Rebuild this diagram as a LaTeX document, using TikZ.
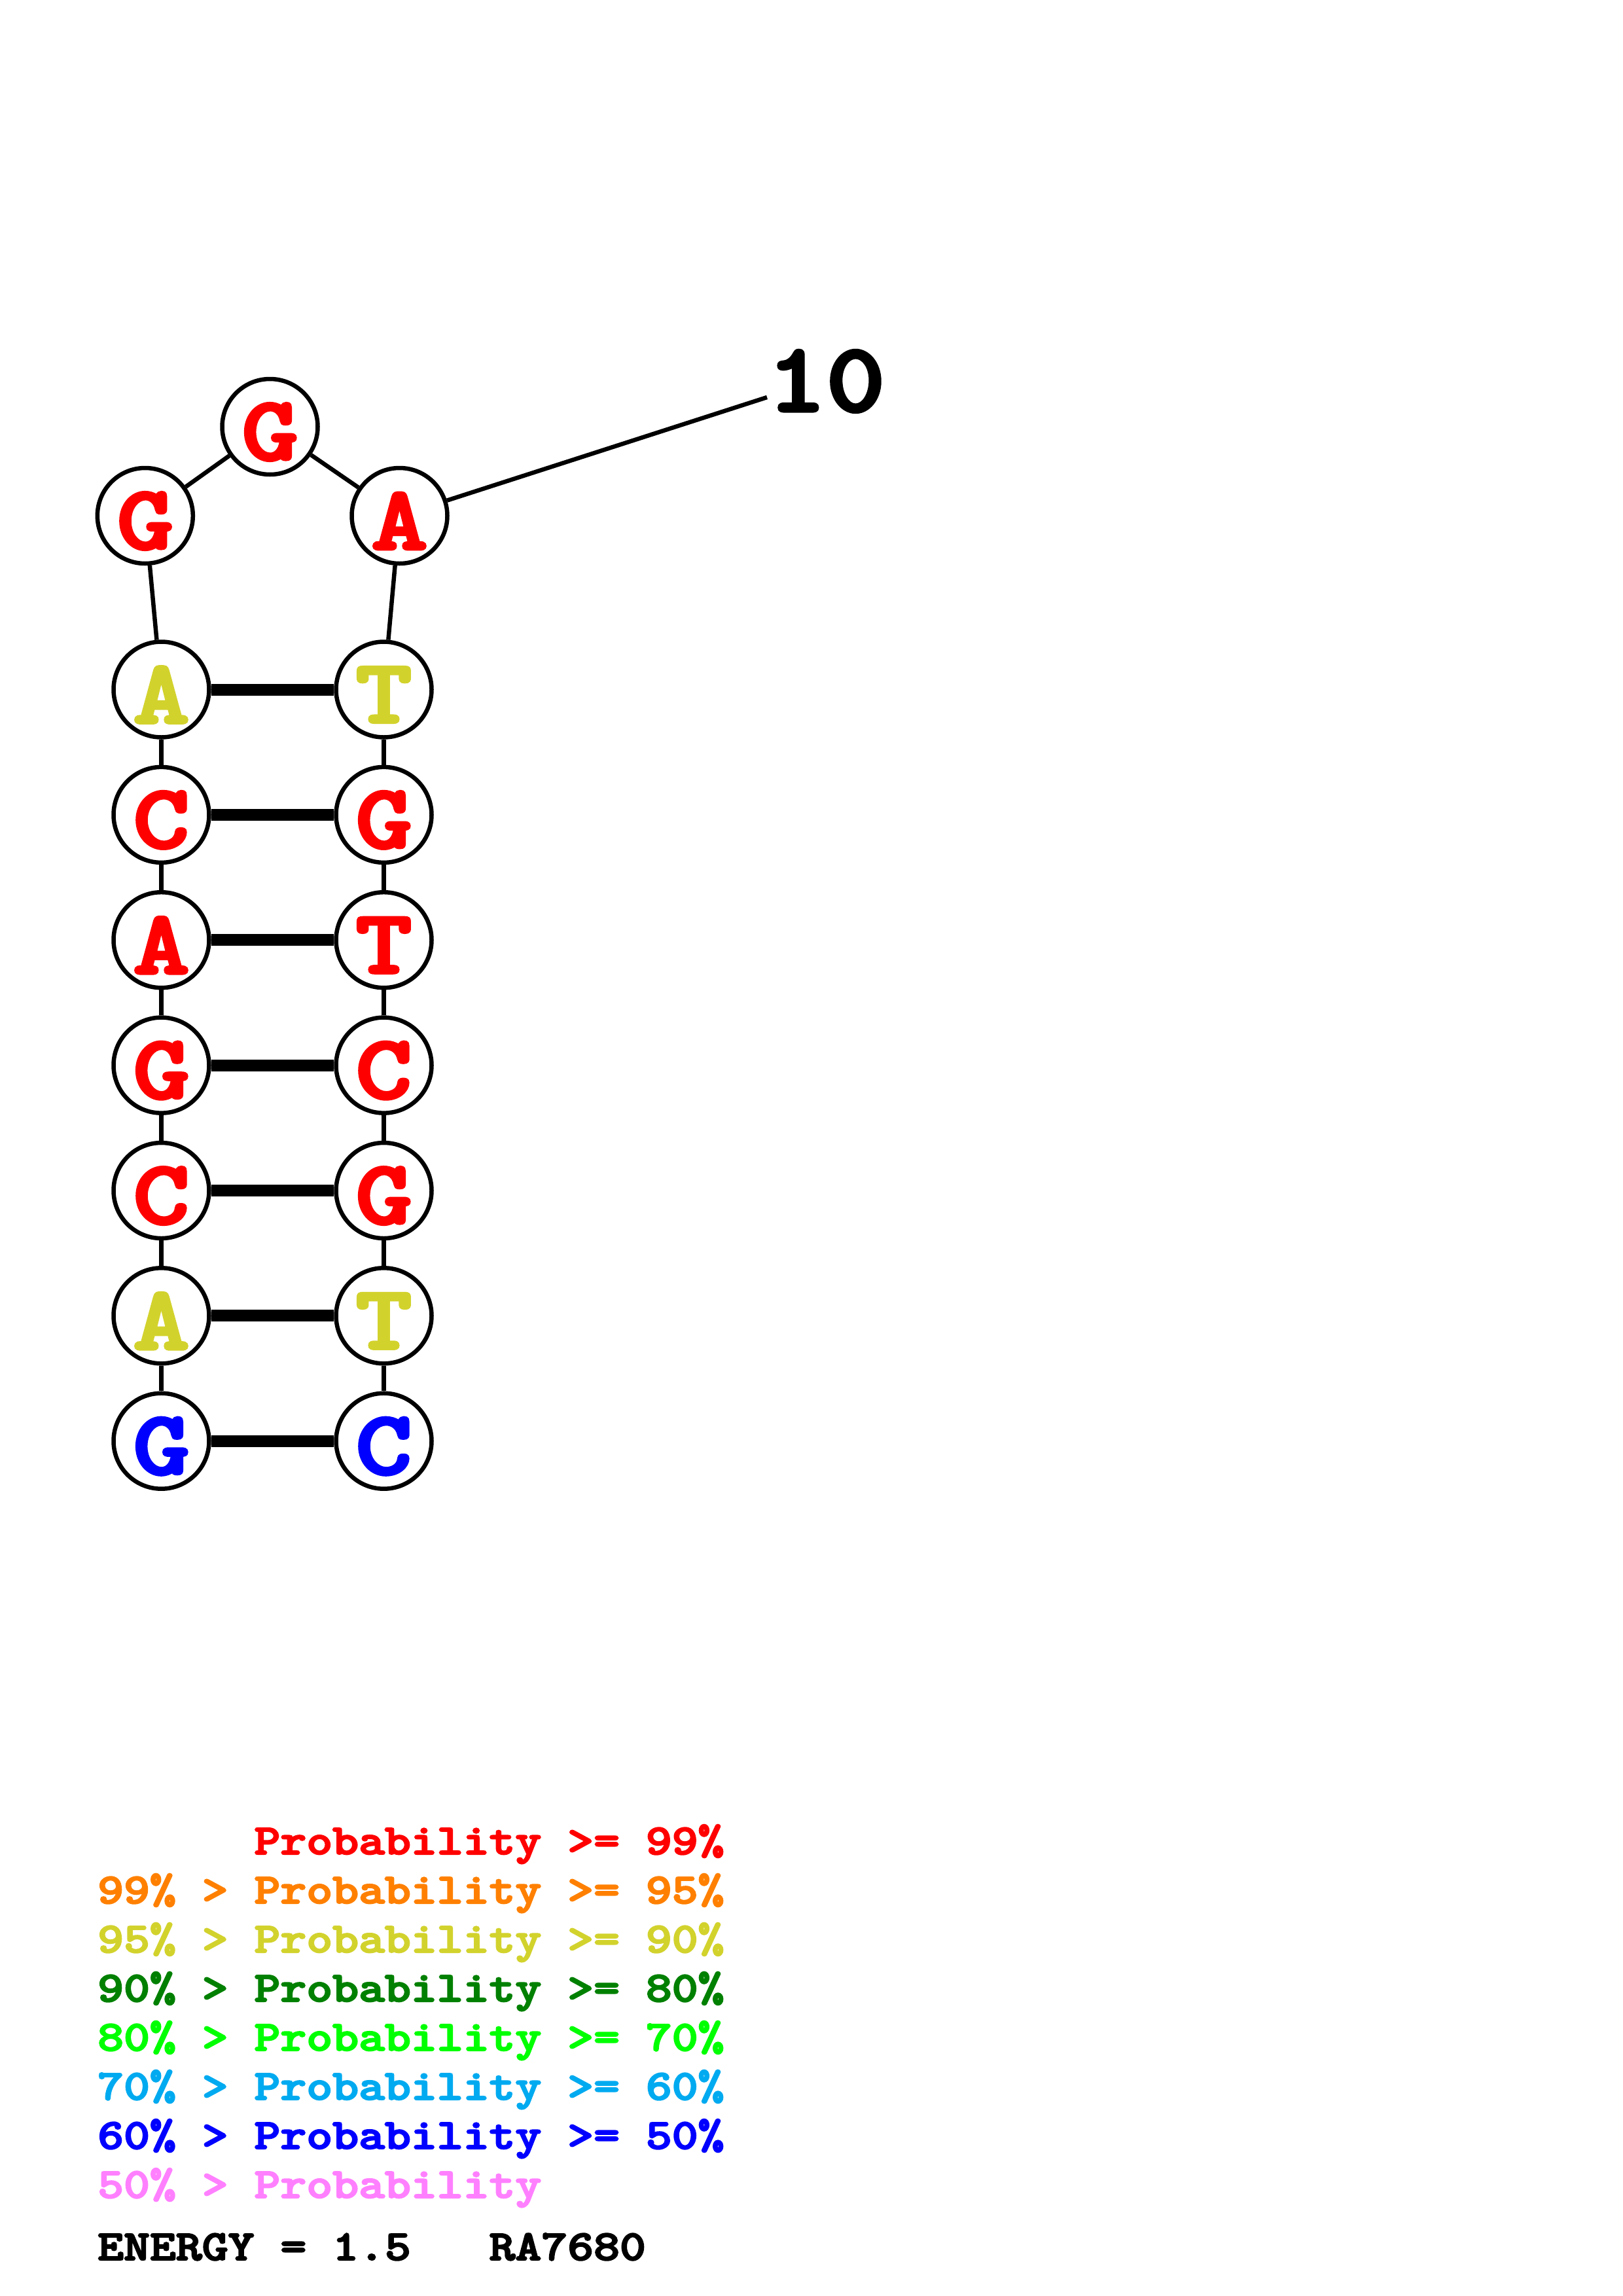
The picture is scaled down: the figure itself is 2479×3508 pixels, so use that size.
\documentclass[tikz,border=0pt]{standalone}
\definecolor{cred}{RGB}{255,0,0}
\definecolor{corange}{RGB}{255,128,0}
\definecolor{cyellow}{RGB}{210,210,45}
\definecolor{cdkgreen}{RGB}{0,128,0}
\definecolor{cgreen}{RGB}{0,255,0}
\definecolor{csky}{RGB}{0,170,240}
\definecolor{cblue}{RGB}{0,0,255}
\definecolor{cpink}{RGB}{255,128,255}
\font\nucF="[lmmonolt10-bold]:embolden=3" at 139pt
\font\legF="[lmmonolt10-bold]:embolden=3" at 65.5pt
\font\numF="[lmmonolt10-bold]:embolden=3" at 150pt
\newcommand\nuc[2]{\textcolor{#1}{\raisebox{-8pt}[\height][\depth]{\scalebox{1.18}[1]{#2}}}}
\newcommand\legtxt[1]{\scalebox{1.16}[1]{#1}}
\begin{document}
\begin{tikzpicture}[x=1pt,y=-1pt,
  base/.style={circle, draw=black, fill=white, line width=6.5pt, minimum size=146pt, inner sep=0pt, font=\nucF},
  bb/.style={line width=6.5pt, black},
  bp/.style={line width=18pt, black},
  leg/.style={anchor=base west, inner sep=0pt, font=\legF}]
\useasboundingbox (0,0) rectangle (2479,3508);
\fill[white] (0,0) rectangle (2479,3508);
% left column (bottom to top = 1..7)
\node[base] (n1) at (246.5,2201.7) {\nuc{cblue}{G}};
\node[base] (n2) at (246.5,2010.3) {\nuc{cyellow}{A}};
\node[base] (n3) at (246.5,1819.0) {\nuc{cred}{C}};
\node[base] (n4) at (246.5,1627.6) {\nuc{cred}{G}};
\node[base] (n5) at (246.5,1436.2) {\nuc{cred}{A}};
\node[base] (n6) at (246.5,1244.9) {\nuc{cred}{C}};
\node[base] (n7) at (246.5,1053.5) {\nuc{cyellow}{A}};
% loop
\node[base] (n8) at (221.8,788) {\nuc{cred}{G}};
\node[base] (n9) at (412.5,652) {\nuc{cred}{G}};
\node[base] (n10) at (610.5,788) {\nuc{cred}{A}};
% right column (top to bottom = 11..17)
\node[base] (n11) at (586.5,1053.5) {\nuc{cyellow}{T}};
\node[base] (n12) at (586.5,1244.9) {\nuc{cred}{G}};
\node[base] (n13) at (586.5,1436.2) {\nuc{cred}{T}};
\node[base] (n14) at (586.5,1627.6) {\nuc{cred}{C}};
\node[base] (n15) at (586.5,1819.0) {\nuc{cred}{G}};
\node[base] (n16) at (586.5,2010.3) {\nuc{cyellow}{T}};
\node[base] (n17) at (586.5,2201.7) {\nuc{cblue}{C}};
% backbone
\draw[bb] (n1) -- (n2);
\draw[bb] (n2) -- (n3);
\draw[bb] (n3) -- (n4);
\draw[bb] (n4) -- (n5);
\draw[bb] (n5) -- (n6);
\draw[bb] (n6) -- (n7);
\draw[bb] (n7) -- (n8);
\draw[bb] (n8) -- (n9);
\draw[bb] (n9) -- (n10);
\draw[bb] (n10) -- (n11);
\draw[bb] (n11) -- (n12);
\draw[bb] (n12) -- (n13);
\draw[bb] (n13) -- (n14);
\draw[bb] (n14) -- (n15);
\draw[bb] (n15) -- (n16);
\draw[bb] (n16) -- (n17);
% base pairs
\draw[bp] (n7) -- (n11);
\draw[bp] (n6) -- (n12);
\draw[bp] (n5) -- (n13);
\draw[bp] (n4) -- (n14);
\draw[bp] (n3) -- (n15);
\draw[bp] (n2) -- (n16);
\draw[bp] (n1) -- (n17);
% number label
\coordinate (t10) at (1172,607);
\draw[bb] (n10) -- (t10);
\node[font=\numF, inner sep=0pt] (lab10) at (1262.5,582.5) {\scalebox{1.143}[1]{10}};
% legend
\node[leg, text=cred] (l1) at (149,2833) {\legtxt{~~~~~~Probability~>=~99\%}};
\node[leg, text=corange] (l2) at (149,2908) {\legtxt{99\%~>~Probability~>=~95\%}};
\node[leg, text=cyellow] (l3) at (149,2983) {\legtxt{95\%~>~Probability~>=~90\%}};
\node[leg, text=cdkgreen] (l4) at (149,3058) {\legtxt{90\%~>~Probability~>=~80\%}};
\node[leg, text=cgreen] (l5) at (149,3133) {\legtxt{80\%~>~Probability~>=~70\%}};
\node[leg, text=csky] (l6) at (149,3208) {\legtxt{70\%~>~Probability~>=~60\%}};
\node[leg, text=cblue] (l7) at (149,3283) {\legtxt{60\%~>~Probability~>=~50\%}};
\node[leg, text=cpink] (l8) at (149,3358) {\legtxt{50\%~>~Probability}};
\node[leg, text=black] (l9) at (149,3453) {\legtxt{ENERGY~=~1.5~~~RA7680}};
\end{tikzpicture}
\end{document}
